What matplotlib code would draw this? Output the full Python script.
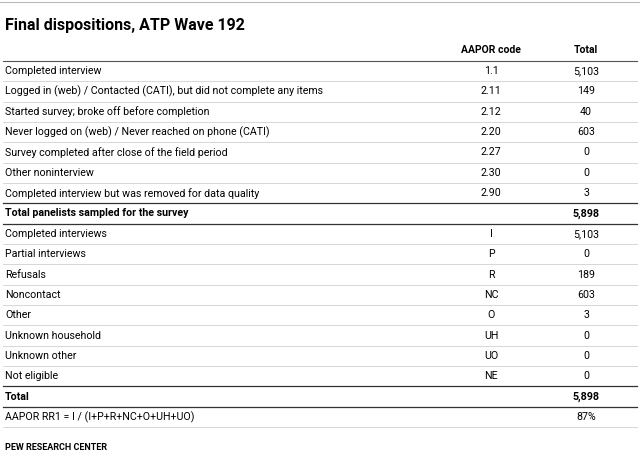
import matplotlib.pyplot as plt

title = "Final dispositions, ATP Wave 192"
col_headers = ["AAPOR code", "Total"]
labels = [
    "Completed interview",
    "Logged in (web) / Contacted (CATI), but did not complete any items",
    "Started survey; broke off before completion",
    "Never logged on (web) / Never reached on phone (CATI)",
    "Survey completed after close of the field period",
    "Other noninterview",
    "Completed interview but was removed for data quality",
    "Total panelists sampled for the survey",
    "Completed interviews",
    "Partial interviews",
    "Refusals",
    "Noncontact",
    "Other",
    "Unknown household",
    "Unknown other",
    "Not eligible",
    "Total",
    "AAPOR RR1 = I / (I+P+R+NC+O+UH+UO)",
]
codes = ["1.1", "2.11", "2.12", "2.20", "2.27", "2.30", "2.90", "",
         "I", "P", "R", "NC", "O", "UH", "UO", "NE", "", ""]
totals = ["5,103", "149", "40", "603", "0", "0", "3", "5,898",
          "5,103", "0", "189", "603", "3", "0", "0", "0", "5,898", "87%"]
bold_rows = [7, 16]

W, H = 640, 474
plt.rcParams['font.family'] = ['Roboto', 'DejaVu Sans']
fig = plt.figure(figsize=(6.4, 4.74), dpi=100)
ax = fig.add_axes([0, 0, 1, 1])
ax.set_xlim(0, W)
ax.set_ylim(H, 0)
ax.axis("off")

ax.axhline(2, color="#bbbbbb", lw=0.8)
ax.text(5, 25, title, fontsize=11.5, fontweight="bold", va="center")
ax.text(491, 50, col_headers[0], fontsize=7.5, fontweight="bold", ha="center", va="center")
ax.text(586, 50, col_headers[1], fontsize=7.5, fontweight="bold", ha="center", va="center")
ax.plot([3, 637], [61, 61], color="#555555", lw=0.8)

y0, step = 71, 20.35
for i, (lab, c, t) in enumerate(zip(labels, codes, totals)):
    y = y0 + i * step
    fw = "bold" if i in bold_rows else "normal"
    ax.text(5, y, lab, fontsize=7.7, fontweight=fw, va="center")
    ax.text(491, y, c, fontsize=7.7, fontweight=fw, ha="center", va="center")
    ax.text(586, y, t, fontsize=7.7, fontweight=fw, ha="center", va="center")
    yb = y + step / 2
    dark = i in bold_rows or (i + 1) in bold_rows
    ax.plot([3, 637], [yb, yb], color="#333333" if dark else "#d0d0d0",
            lw=0.9 if dark else 0.6)

ax.text(5, 448, "PEW RESEARCH CENTER", fontsize=6.5, fontweight="bold", va="center")
fig.savefig("out.png", dpi=100)
